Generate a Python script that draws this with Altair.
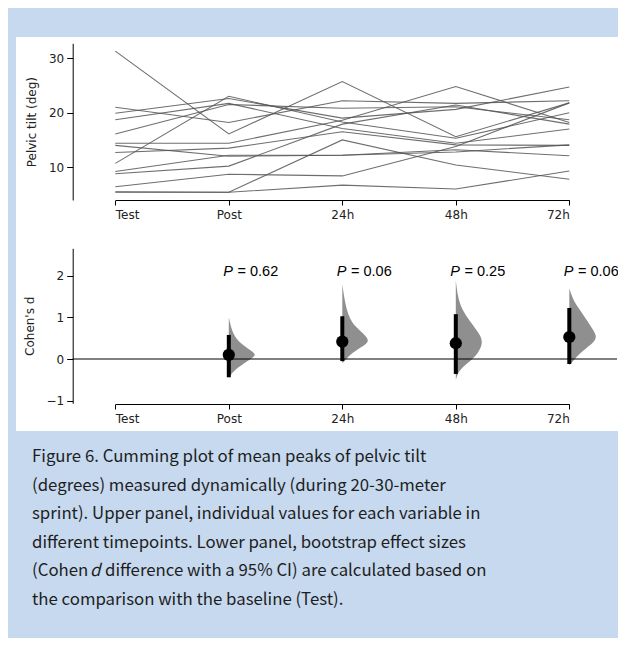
import altair as alt
import pandas as pd

# ---------------- data ----------------
timepoints = ["Test", "Post", "24h", "48h", "72h"]

# individual pelvic-tilt values (deg) per subject across timepoints
subj_values = [
    [31.3, 16.1, 25.7, 15.6, 21.8],
    [10.7, 23.0, 18.3, 15.3, 20.0],
    [21.0, 18.2, 22.2, 21.7, 22.2],
    [19.9, 22.6, 19.0, 20.6, 24.7],
    [18.7, 21.7, 17.1, 14.4, 17.0],
    [16.1, 21.5, 20.8, 21.1, 18.7],
    [14.4, 14.4, 18.6, 24.8, 18.2],
    [14.0, 12.0, 12.2, 13.2, 12.1],
    [12.7, 13.5, 16.5, 14.1, 14.0],
    [9.2, 12.2, 12.2, 12.8, 14.1],
    [8.8, 10.2, 17.9, 21.4, 17.9],
    [6.4, 8.7, 8.4, 13.8, 21.8],
    [5.5, 5.4, 15.0, 10.4, 7.8],
    [5.4, 5.4, 6.7, 6.0, 9.3],
]

# effect sizes (Cohen's d vs Test)
effect_tp = [1, 2, 3, 4]
effect_mean = [0.10, 0.42, 0.38, 0.53]
ci_low = [-0.44, -0.05, -0.36, -0.12]
ci_high = [0.58, 1.03, 1.08, 1.23]
p_values = ["0.62", "0.06", "0.25", "0.06"]

# bootstrap distribution outlines (d value, relative density)
violin_d = [
    [-0.45, -0.3, -0.15, 0.0, 0.1, 0.2, 0.35, 0.5, 0.7, 1.0],
    [-0.1, 0.0, 0.15, 0.3, 0.43, 0.6, 0.8, 1.0, 1.3, 1.8],
    [-0.5, -0.3, -0.15, 0.05, 0.38, 0.6, 0.9, 1.2, 1.5, 1.9],
    [-0.15, 0.0, 0.2, 0.4, 0.55, 0.75, 1.0, 1.2, 1.4, 1.7],
]
violin_dens = [
    [0, 0.15, 0.45, 0.8, 1.0, 0.8, 0.48, 0.25, 0.1, 0],
    [0, 0.14, 0.36, 0.71, 1.0, 0.79, 0.43, 0.25, 0.11, 0],
    [0, 0.1, 0.31, 0.72, 1.0, 0.86, 0.52, 0.21, 0.07, 0],
    [0, 0.19, 0.48, 0.89, 1.0, 0.81, 0.56, 0.37, 0.15, 0],
]

caption_lines = [
    "Figure 6.  Cumming plot of mean peaks of pelvic tilt",
    "(degrees) measured dynamically (during 20-30-meter",
    "sprint). Upper panel, individual values for each variable in",
    "different timepoints. Lower panel, bootstrap effect sizes",
]
caption_l5 = ["(Cohen", "d", "difference with a 95% CI) are calculated based on"]
caption_l6 = "the comparison with the baseline (Test)."

# ---------------- tables ----------------
lines_df = pd.DataFrame(
    [{"subject": s, "tp": i, "value": v}
     for s, vals in enumerate(subj_values) for i, v in enumerate(vals)]
)
VW = 0.245  # max half-violin width in x units
violin_df = pd.DataFrame(
    [{"grp": tp, "d": d, "base": tp, "edge": tp + w * VW}
     for tp, ds, ws in zip(effect_tp, violin_d, violin_dens)
     for d, w in zip(ds, ws)]
)
eff_df = pd.DataFrame({"tp": effect_tp, "mean": effect_mean, "lo": ci_low,
                       "hi": ci_high, "p": p_values})
zero_df = pd.DataFrame({"d": [0]})
one = alt.Data(values=[{}])

# ---------------- layout constants ----------------
W, H = 610, 630
BLUE = "#c6d9ef"
TXT = "#222222"
FONT = "DejaVu Sans"

x_scale = alt.Scale(domain=[0, 4], range=[107.3, 561.3], nice=False, zero=False)
up_scale = alt.Scale(domain=[3.98, 32.73], range=[192, 35.3], nice=False, zero=False)
lo_scale = alt.Scale(domain=[-1.067, 2.667], range=[395.3, 240.3], nice=False, zero=False)
label_expr = "[" + ",".join(f"'{t}'" for t in timepoints) + "][datum.value]"


def x_axis(y_px):
    return alt.Axis(values=[0, 1, 2, 3, 4], labelExpr=label_expr, orient="bottom",
                    offset=y_px - H, grid=False, tickSize=5, labelPadding=4,
                    title=None, domainColor="black", tickColor="black",
                    labelFont=FONT, labelFontSize=12, labelColor=TXT, zindex=2)


def y_axis(values, title, pad):
    return alt.Axis(values=values, format="d", orient="left", offset=-64.7, grid=False,
                    tickSize=6, labelPadding=3, title=title, titlePadding=pad,
                    titleFont=FONT, titleFontSize=12, titleFontWeight="normal",
                    titleColor=TXT, domainColor="black", tickColor="black",
                    labelFont=FONT, labelFontSize=12, labelColor=TXT, zindex=2)


X_UP = alt.X("tp:Q", scale=x_scale, axis=x_axis(192))
X_LO_AX = x_axis(396)
Y_LO_AX = y_axis([-1, 0, 1, 2], "Cohen's d", 10)

# ---------------- background panel ----------------
panel = alt.Chart(one).mark_rect(color="white").encode(
    x=alt.value(8), x2=alt.value(W), y=alt.value(29), y2=alt.value(423)
)

# ---------------- upper panel ----------------
upper = alt.Chart(lines_df).mark_line(color="#555555", strokeWidth=1.1, opacity=0.85).encode(
    x=X_UP,
    y=alt.Y("value:Q", scale=up_scale, axis=y_axis([10, 20, 30], "Pelvic tilt (deg)", 10)),
    detail="subject:N",
    order="tp:Q",
)

# ---------------- lower panel ----------------
violins = alt.Chart(violin_df).mark_area(orient="horizontal", interpolate="basis",
                                         color="#8f8f8f", opacity=1).encode(
    y=alt.Y("d:Q", scale=lo_scale, axis=Y_LO_AX),
    x=alt.X("edge:Q", scale=x_scale, axis=X_LO_AX),
    x2="base:Q",
    detail="grp:N",
)
zero = alt.Chart(zero_df).mark_rule(color="black", strokeWidth=1).encode(
    y=alt.Y("d:Q", scale=lo_scale, axis=Y_LO_AX),
    x=alt.value(64.7), x2=alt.value(609),
)
ci = alt.Chart(eff_df).mark_rule(color="black", strokeWidth=4).encode(
    x=alt.X("tp:Q", scale=x_scale, axis=X_LO_AX),
    y=alt.Y("lo:Q", scale=lo_scale, axis=Y_LO_AX),
    y2="hi:Q",
)
dots = alt.Chart(eff_df).mark_point(filled=True, shape="circle", size=150,
                                    color="black", opacity=1).encode(
    x=alt.X("tp:Q", scale=x_scale, axis=X_LO_AX),
    y=alt.Y("mean:Q", scale=lo_scale, axis=Y_LO_AX),
)
p_it = alt.Chart(eff_df).mark_text(text="P", font="Liberation Sans", fontSize=14.5,
                                   fontStyle="italic", align="left", baseline="middle",
                                   dx=-5.6, color="black").encode(
    x=alt.X("tp:Q", scale=x_scale, axis=X_LO_AX),
    y=alt.datum(2.1),
)
p_val = alt.Chart(eff_df).transform_calculate(lab="'= ' + datum.p").mark_text(
    font="Liberation Sans", fontSize=14.5, align="left", baseline="middle",
    dx=8.7, color="black").encode(
    x=alt.X("tp:Q", scale=x_scale, axis=X_LO_AX),
    y=alt.datum(2.1),
    text="lab:N",
)
lower = alt.layer(violins, zero, ci, dots, p_it, p_val)

# ---------------- caption ----------------
CAP_FONT = "Noto Sans CJK SC"
CAP_SIZE = 16.8
LH = 28.6
Y0 = 454
L5 = Y0 + 4 * LH


def cap(text, x, y, italic=False):
    kw = {"fontStyle": "italic"} if italic else {}
    return alt.Chart(one).mark_text(text=text, font=CAP_FONT, fontSize=CAP_SIZE,
                                    lineHeight=LH, align="left", baseline="alphabetic",
                                    color="#1e1e1e", **kw).encode(x=alt.value(x), y=alt.value(y))


cap1 = cap(caption_lines, 24, Y0)
cap5a = cap(caption_l5[0], 24, L5)
cap5b = cap(caption_l5[1], 82, L5, italic=True)
cap5c = cap(caption_l5[2], 97, L5)
cap6 = cap(caption_l6, 24, Y0 + 5 * LH)

chart = alt.layer(panel, upper, lower, cap1, cap5a, cap5b, cap5c, cap6).resolve_scale(
    x="independent", y="independent"
).properties(
    width=W, height=H, padding=0,
    autosize=alt.AutoSizeParams(type="none"),
    background=BLUE,
).configure_view(stroke=None)

chart.save("out.html", embed_options={"renderer": "svg", "actions": False})
